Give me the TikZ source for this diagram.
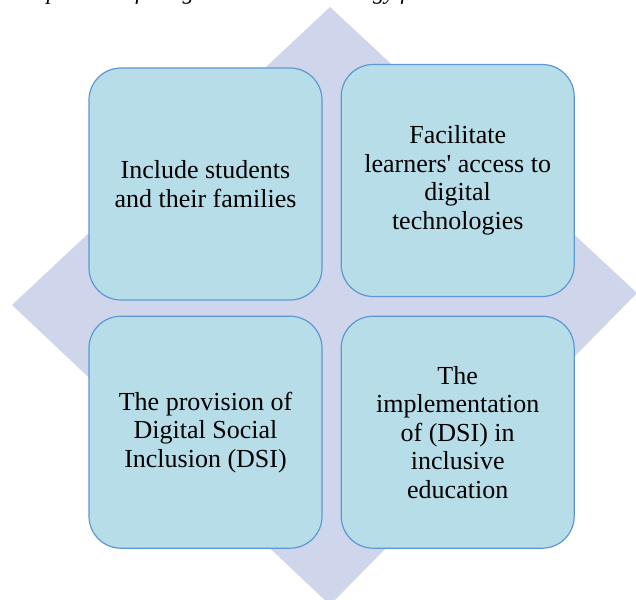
\documentclass[tikz,border=0pt]{standalone}
\usepackage{fontspec}
\setmainfont{Liberation Serif}
\usepackage{xcolor}
\usetikzlibrary{positioning}
\definecolor{diamondfill}{RGB}{207,213,234}
\definecolor{boxfill}{RGB}{183,221,232}
\definecolor{boxline}{RGB}{93,152,212}
\tikzstyle{block} = [rectangle, draw=boxline, fill=boxfill, line width=1.2pt,
    rounded corners=32pt, minimum width=233pt, minimum height=232pt,
    align=center, font=\fontsize{26}{28.5}\selectfont]
\tikzstyle{heading} = [anchor=base west, inner sep=0pt,
    font=\itshape\fontsize{23}{25}\selectfont]

\begin{document}
\begin{tikzpicture}[x=1pt, y=-1pt, node distance=18pt]
  \useasboundingbox (0,0) rectangle (636,599);
  \clip (0,0) rectangle (636,599);

  % Diamond behind the boxes
  \fill [diamondfill] (330,7) -- (637,293) -- (330,605) -- (12,305) -- cycle;

  % Heading, cut by the top edge
  \node [heading] (title) at (3,0) {Components of a digital inclusion strategy for};

  % Place nodes
  \node [block] (include) at (205.5,184) {Include students\\and their families};
  \node [block, right=of include, yshift=3.5pt] (access) {Facilitate\\learners\textquotesingle{} access to\\digital\\technologies};
  \node [block, below=15pt of include] (provision) {The provision of\\Digital Social\\Inclusion (DSI)};
  \node [block, right=of provision] (implement) {The\\implementation\\of (DSI) in\\inclusive\\education};

\end{tikzpicture}
\end{document}
